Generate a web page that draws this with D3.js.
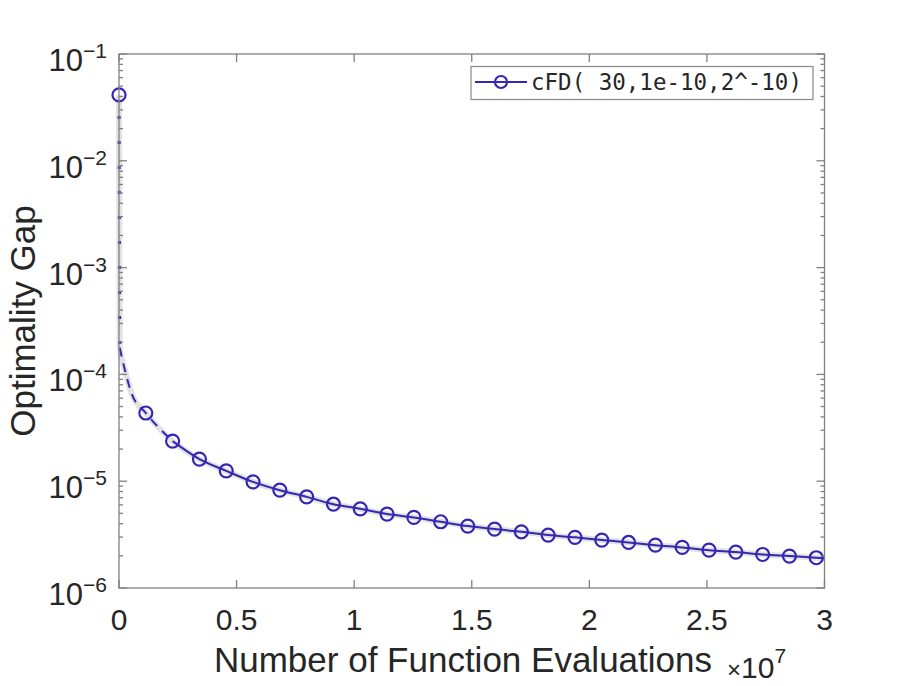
<!DOCTYPE html>
<html>
<head>
<meta charset="utf-8">
<script src="https://cdn.jsdelivr.net/npm/d3@7"></script>
<style>
  body { margin: 0; background: #fff; }
  svg text { font-family: "Liberation Sans", Arial, Helvetica, sans-serif; fill: #262626; }
</style>
</head>
<body>
<div id="chart"></div>
<script>
// values
const seriesName = "cFD( 30,1e-10,2^-10)";

// the markers (one every ~1.14e6 evaluations)
const markerEvals = [0, 1.14e6, 2.28e6, 3.42e6, 4.56e6, 5.70e6, 6.84e6, 7.98e6, 9.12e6,
  1.026e7, 1.140e7, 1.254e7, 1.368e7, 1.483e7, 1.597e7, 1.711e7, 1.825e7, 1.939e7,
  2.053e7, 2.167e7, 2.281e7, 2.395e7, 2.509e7, 2.623e7, 2.737e7, 2.851e7, 2.965e7];
const markerGap = [4.14e-2, 4.35e-5, 2.37e-5, 1.61e-5, 1.25e-5, 9.86e-6, 8.24e-6, 7.13e-6, 6.09e-6,
  5.51e-6, 4.92e-6, 4.58e-6, 4.17e-6, 3.80e-6, 3.56e-6, 3.36e-6, 3.13e-6, 2.98e-6,
  2.81e-6, 2.67e-6, 2.52e-6, 2.40e-6, 2.26e-6, 2.17e-6, 2.06e-6, 1.99e-6, 1.92e-6];

// extra line points without a marker
const earlyEvals = [3e4, 2.5e5, 5.4e5];
const earlyGap = [1.78e-4, 1.1e-4, 6.6e-5];
const tailEvals = [3.0e7];
const tailGap = [1.90e-6];

const xTicks = [0, 0.5e7, 1e7, 1.5e7, 2e7, 2.5e7, 3e7];
const xTickLabels = ["0", "0.5", "1", "1.5", "2", "2.5", "3"];
const yExps = [-1, -2, -3, -4, -5, -6];

const width = 913, height = 686;
const margin = { left: 119, right: 88.5, top: 54, bottom: 98 };
const axisColor = "#808080";
const blue = "#3526b3";

d3.select("#chart").selectAll("*").remove();

const svg = d3.select("#chart")
  .append("svg")
  .attr("width", width)
  .attr("height", height);

const x = d3.scaleLinear()
  .domain([0, 3e7])
  .range([margin.left, width - margin.right]);

const y = d3.scaleLog()
  .domain([1e-6, 1e-1])
  .range([height - margin.bottom, margin.top]);

const x0 = x.range()[0], x1 = x.range()[1];
const y0 = y.range()[0], y1 = y.range()[1];

// line data: first marker, early points, remaining markers, tail
const markers = markerEvals.map((e, i) => ({ e: e, g: markerGap[i] }));
const early = earlyEvals.map((e, i) => ({ e: e, g: earlyGap[i] }));
const tail = tailEvals.map((e, i) => ({ e: e, g: tailGap[i] }));
const pts = [markers[0]].concat(early, markers.slice(1), tail);

const line = d3.line()
  .x(d => x(d.e))
  .y(d => y(d.g))
  .curve(d3.curveMonotoneX);

const plot = svg.append("g");

// grey band behind the mean curve
plot.append("path")
  .attr("d", line(pts))
  .attr("fill", "none")
  .attr("stroke", "#e2e2e2")
  .attr("stroke-width", 6)
  .attr("stroke-linejoin", "round");

// vertical drop: drawn dotted
plot.append("path")
  .attr("d", d3.line().x(d => x(d.e)).y(d => y(d.g))(pts.slice(0, 2)))
  .attr("fill", "none")
  .attr("stroke", blue)
  .attr("stroke-width", 3)
  .attr("stroke-dasharray", "3,22")
  .attr("stroke-dashoffset", -21);

// the start of the curve: dashed
plot.append("path")
  .attr("d", line(pts.slice(1, 6)))
  .attr("fill", "none")
  .attr("stroke", blue)
  .attr("stroke-width", 2)
  .attr("stroke-dasharray", "9,7");

// the rest: solid
plot.append("path")
  .attr("d", line(pts.slice(5)))
  .attr("fill", "none")
  .attr("stroke", blue)
  .attr("stroke-width", 2);

plot.selectAll("circle.mk")
  .data(markers)
  .enter()
  .append("circle")
  .attr("class", "mk")
  .attr("cx", d => x(d.e))
  .attr("cy", d => y(d.g))
  .attr("r", 6.5)
  .attr("fill", "none")
  .attr("stroke", blue)
  .attr("stroke-width", 2.2);

// axes box
const ax = svg.append("g");
ax.append("rect")
  .attr("x", x0).attr("y", y1)
  .attr("width", x1 - x0).attr("height", y0 - y1)
  .attr("fill", "none")
  .attr("stroke", axisColor)
  .attr("stroke-width", 1.3);

// x ticks (bottom and top, inward)
xTicks.forEach((t, i) => {
  ax.append("line").attr("x1", x(t)).attr("x2", x(t)).attr("y1", y0).attr("y2", y0 - 8)
    .attr("stroke", axisColor).attr("stroke-width", 1.3);
  ax.append("line").attr("x1", x(t)).attr("x2", x(t)).attr("y1", y1).attr("y2", y1 + 8)
    .attr("stroke", axisColor).attr("stroke-width", 1.3);
  svg.append("text")
    .attr("x", x(t)).attr("y", 630)
    .attr("text-anchor", "middle")
    .attr("font-size", 30)
    .text(xTickLabels[i]);
});

// y ticks, major and minor, both sides
const yMinor = [];
for (let p = -6; p < -1 + 0.5; p++) {
  for (let m = 1; m <= 9; m++) {
    const v = m * Math.pow(10, p);
    if (v <= 1e-1 * 1.0001) yMinor.push({ v: v, major: m === 1 });
  }
}
yMinor.forEach(d => {
  const len = d.major ? 8 : 4;
  ax.append("line").attr("x1", x0).attr("x2", x0 + len).attr("y1", y(d.v)).attr("y2", y(d.v))
    .attr("stroke", axisColor).attr("stroke-width", 1.3);
  ax.append("line").attr("x1", x1).attr("x2", x1 - len).attr("y1", y(d.v)).attr("y2", y(d.v))
    .attr("stroke", axisColor).attr("stroke-width", 1.3);
});

yExps.forEach(p => {
  const t = svg.append("text")
    .attr("x", 107)
    .attr("y", y(Math.pow(10, p)) + 17)
    .attr("text-anchor", "end")
    .attr("font-size", 31);
  t.append("tspan").text("10");
  t.append("tspan").attr("dy", -13).attr("font-size", 21).text("\u2212" + Math.abs(p));
});

// axis labels
svg.append("text")
  .attr("x", 463).attr("y", 672)
  .attr("text-anchor", "middle")
  .attr("font-size", 35)
  .text("Number of Function Evaluations");

const ex = svg.append("text")
  .attr("x", 727).attr("y", 678)
  .attr("font-size", 30);
ex.append("tspan").attr("font-size", 24).text("\u00d7");
ex.append("tspan").text("10");
ex.append("tspan").attr("dy", -15).attr("font-size", 21).text("7");

svg.append("text")
  .attr("transform", `translate(35, ${(y0 + y1) / 2}) rotate(-90)`)
  .attr("text-anchor", "middle")
  .attr("font-size", 35)
  .text("Optimality Gap");

// legend
const lg = svg.append("g");
lg.append("rect")
  .attr("x", 471).attr("y", 66.5)
  .attr("width", 342).attr("height", 33)
  .attr("fill", "#fff")
  .attr("stroke", "#888")
  .attr("stroke-width", 1.2);
lg.append("line")
  .attr("x1", 475).attr("x2", 527).attr("y1", 82).attr("y2", 82)
  .attr("stroke", blue).attr("stroke-width", 2);
lg.append("circle")
  .attr("cx", 501).attr("cy", 82).attr("r", 6)
  .attr("fill", "none").attr("stroke", blue).attr("stroke-width", 2.2);
lg.append("text")
  .attr("x", 531).attr("y", 90)
  .attr("font-size", 22.5)
  .style("font-family", "'DejaVu Sans Mono', monospace")
  .attr("xml:space", "preserve")
  .style("white-space", "pre")
  .text(seriesName);
</script>
</body>
</html>
